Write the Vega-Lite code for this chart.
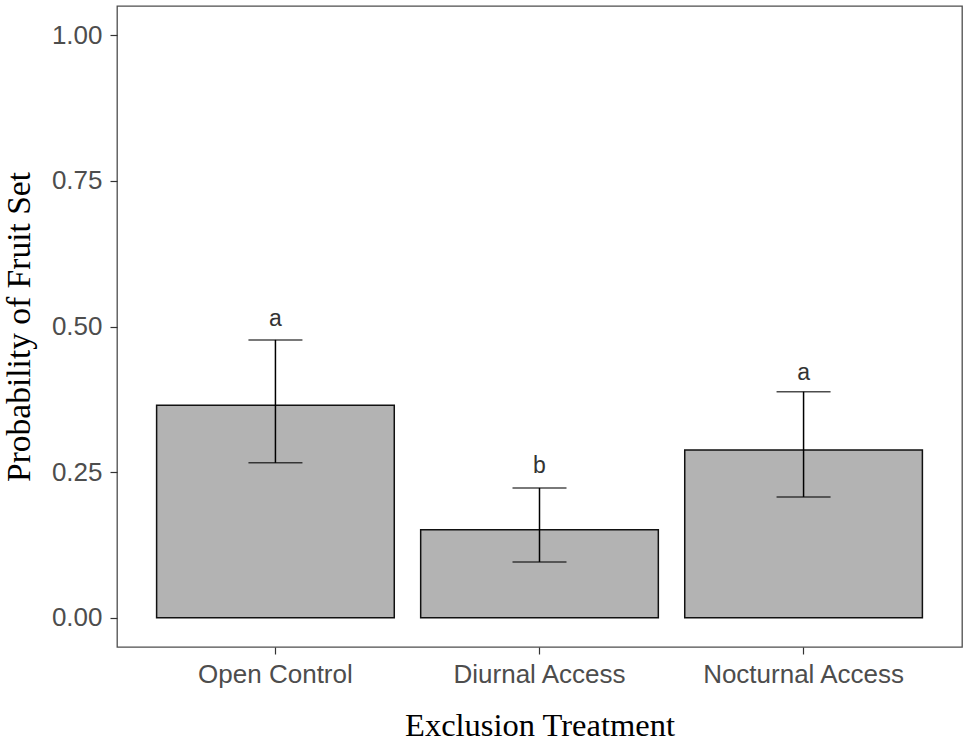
{
  "$schema": "https://vega.github.io/schema/vega-lite/v6.json",
  "width": 845,
  "height": 641,
  "autosize": {"type": "none"},
  "padding": {"left": 117, "top": 6, "right": 3, "bottom": 95},
  "background": "white",
  "config": {
    "view": {"stroke": "#4d4d4d", "strokeWidth": 1.3},
    "axis": {
      "grid": false,
      "domain": false,
      "tickColor": "#333333",
      "tickSize": 7,
      "tickWidth": 1.2,
      "labelColor": "#4d4d4d",
      "labelFont": "Liberation Sans",
      "labelFontSize": 26,
      "labelPadding": 8,
      "labelLimit": 0,
      "titleFont": "Liberation Serif",
      "titleFontSize": 32.5,
      "titleFontWeight": "normal",
      "titleColor": "#000000"
    }
  },
  "data": {
    "values": [
      {"treatment": "Open Control", "p": 0.365, "lo": 0.266, "hi": 0.477, "letter": "a", "ly": 0.513},
      {"treatment": "Diurnal Access", "p": 0.151, "lo": 0.096, "hi": 0.223, "letter": "b", "ly": 0.261},
      {"treatment": "Nocturnal Access", "p": 0.288, "lo": 0.2075, "hi": 0.388, "letter": "a", "ly": 0.42}
    ]
  },
  "encoding": {
    "x": {
      "field": "treatment",
      "type": "nominal",
      "sort": null,
      "scale": {"paddingInner": 0.1, "paddingOuter": 0.15},
      "axis": {"labelAngle": 0, "labelPadding": 7, "title": "Exclusion Treatment", "titleBaseline": "alphabetic", "titleY": 88}
    }
  },
  "layer": [
    {
      "mark": {"type": "bar", "fill": "#b3b3b3", "stroke": "#111111", "strokeWidth": 1.5},
      "encoding": {
        "y": {
          "field": "p",
          "type": "quantitative",
          "scale": {"domain": [-0.05, 1.05], "nice": false, "zero": false},
          "axis": {"values": [0, 0.25, 0.5, 0.75, 1], "format": ".2f", "title": "Probability of Fruit Set", "titleFontSize": 33.5, "titleBaseline": "alphabetic", "titleX": -88}
        },
        "y2": {"datum": 0}
      }
    },
    {
      "mark": {"type": "rule", "color": "#000000", "strokeWidth": 1.5},
      "encoding": {"y": {"field": "lo", "type": "quantitative"}, "y2": {"field": "hi"}}
    },
    {
      "mark": {"type": "tick", "color": "#000000", "size": 54, "thickness": 1.5},
      "encoding": {"y": {"field": "lo", "type": "quantitative"}}
    },
    {
      "mark": {"type": "tick", "color": "#000000", "size": 54, "thickness": 1.5},
      "encoding": {"y": {"field": "hi", "type": "quantitative"}}
    },
    {
      "mark": {"type": "text", "font": "Liberation Sans", "fontSize": 23, "color": "#333333", "baseline": "middle"},
      "encoding": {"y": {"field": "ly", "type": "quantitative"}, "text": {"field": "letter"}}
    }
  ]
}
